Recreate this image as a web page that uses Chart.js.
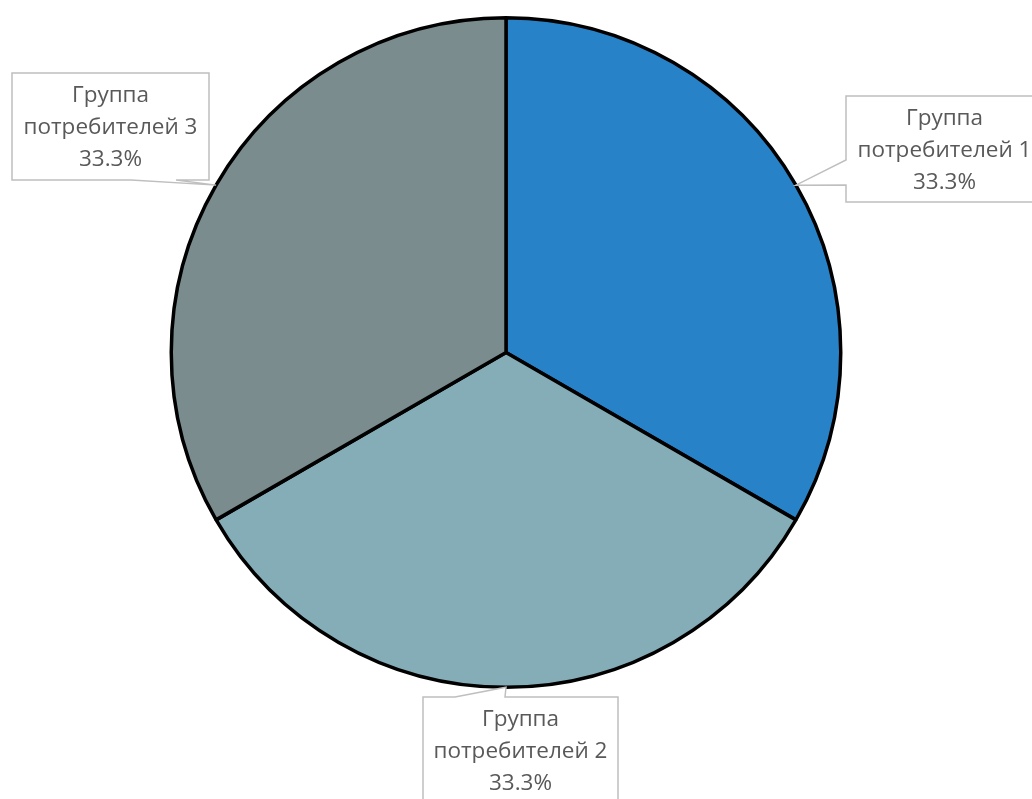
<!DOCTYPE html>
<html>
<head>
<meta charset="utf-8">
<script src="https://cdn.jsdelivr.net/npm/chart.js@4/dist/chart.umd.min.js"></script>
<style>
  body { margin: 0; background: #fff; }
</style>
</head>
<body>
<canvas id="pie" width="1032" height="799"></canvas>
<script>
const groupNames = ['Группа потребителей 1', 'Группа потребителей 2', 'Группа потребителей 3'];
const groupShares = [33.3, 33.3, 33.3];
const groupColors = ['#2882C8', '#85ADB7', '#7A8C8E'];

// callout boxes: rect + where the wedge leaves the box
const calloutBoxes = [
  { x: 846, y: 96, w: 197, h: 106, side: 'left', base: [64, 89] },
  { x: 423, y: 697, w: 195, h: 120, side: 'top', base: [32, 82] },
  { x: 12, y: 73, w: 197, h: 107, side: 'bottom', base: [119, 164] }
];

const calloutPlugin = {
  id: 'callouts',
  afterDraw(chart) {
    const ctx = chart.ctx;
    const arcs = chart.getDatasetMeta(0).data;
    arcs.forEach((arc, i) => {
      const p = arc.getProps(['x', 'y', 'startAngle', 'endAngle', 'outerRadius'], true);
      const mid = (p.startAngle + p.endAngle) / 2;
      const ax = p.x + Math.cos(mid) * p.outerRadius;
      const ay = p.y + Math.sin(mid) * p.outerRadius;
      const b = calloutBoxes[i];
      const pts = [];
      const L = b.x, T = b.y, R = b.x + b.w, B = b.y + b.h;
      pts.push([L, T]);
      if (b.side === 'top') {
        pts.push([L + b.base[0], T], [ax, ay], [L + b.base[1], T]);
      }
      pts.push([R, T], [R, B]);
      if (b.side === 'bottom') {
        pts.push([L + b.base[1], B], [ax, ay], [L + b.base[0], B]);
      }
      pts.push([L, B]);
      if (b.side === 'left') {
        pts.push([L, T + b.base[1]], [ax, ay], [L, T + b.base[0]]);
      }
      ctx.save();
      ctx.beginPath();
      pts.forEach((pt, k) => k ? ctx.lineTo(pt[0], pt[1]) : ctx.moveTo(pt[0], pt[1]));
      ctx.closePath();
      ctx.fillStyle = '#ffffff';
      ctx.fill();
      ctx.strokeStyle = '#BFBFBF';
      ctx.lineWidth = 1.5;
      ctx.stroke();

      const words = chart.data.labels[i].split(' ');
      const lines = [words[0], words.slice(1).join(' '), groupShares[i].toFixed(1) + '%'];
      ctx.fillStyle = '#595959';
      ctx.font = '22.5px "Open Sans"';
      ctx.textAlign = 'center';
      ctx.textBaseline = 'middle';
      lines.forEach((t, k) => ctx.fillText(t, L + b.w / 2, T + 23 + k * 32));
      ctx.restore();
    });
  }
};

new Chart(document.getElementById('pie').getContext('2d'), {
  type: 'pie',
  data: {
    labels: groupNames,
    datasets: [{
      data: groupShares,
      backgroundColor: groupColors,
      borderColor: '#000000',
      borderWidth: 3.5,
      hoverOffset: 0
    }]
  },
  options: {
    responsive: false,
    animation: false,
    events: [],
    layout: { padding: { top: 16, bottom: 110, left: 0, right: 20 } },
    plugins: {
      legend: { display: false },
      tooltip: { enabled: false }
    }
  },
  plugins: [calloutPlugin]
});
</script>
</body>
</html>
